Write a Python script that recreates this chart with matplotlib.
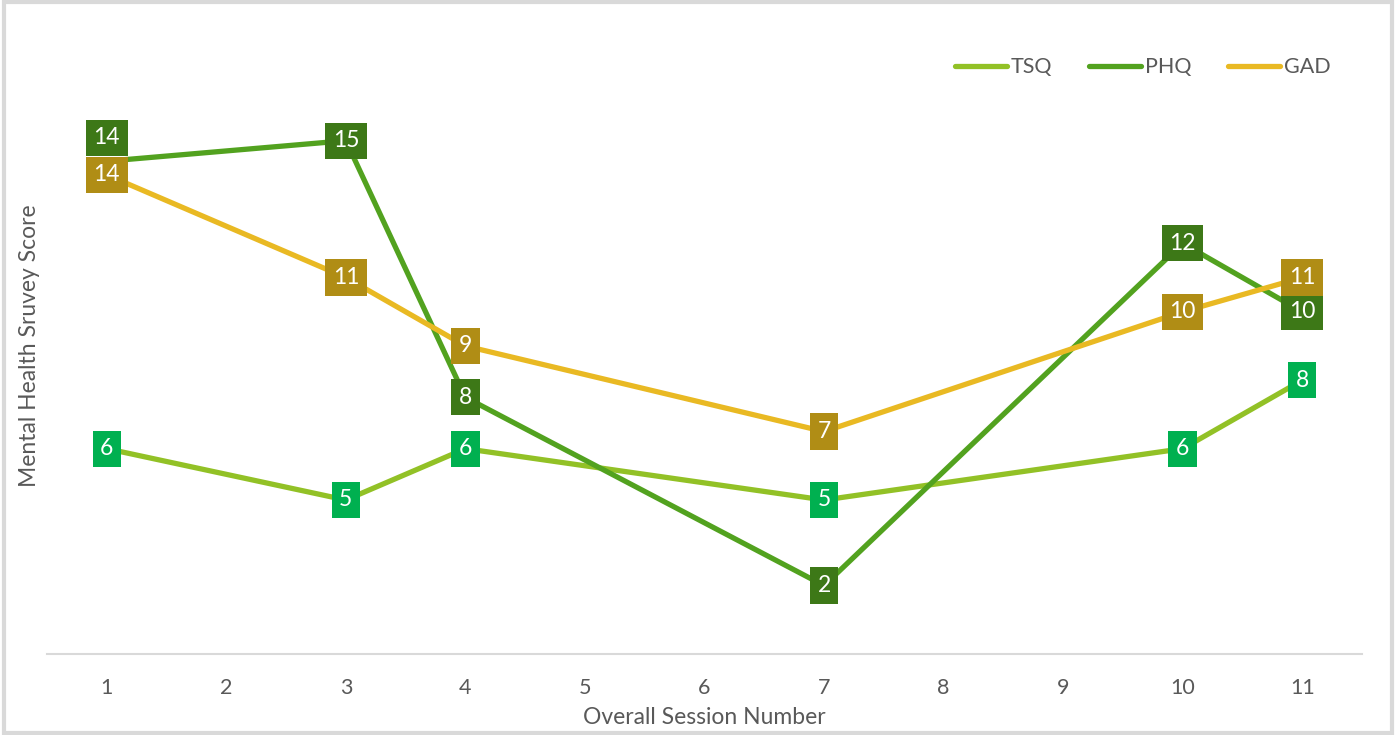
import matplotlib.pyplot as plt
from matplotlib.patches import Rectangle

# session numbers on the category axis
sessions = [1, 2, 3, 4, 5, 6, 7, 8, 9, 10, 11]

# sessions with survey data (gaps are joined by the line)
data_sessions = [1, 3, 4, 7, 10, 11]
tsq = [6.0, 4.5, 6.0, 4.5, 6.0, 8.0]
phq = [14.4, 15.0, 7.5, 2.0, 12.0, 10.0]
gad = [14.0, 11.0, 9.0, 6.5, 10.0, 11.0]

# label offsets in points (only PHQ at session 1 was moved up)
phq_label_dy = [17, 0, 0, 0, 0, 0]

plt.rcParams['font.family'] = ['Lato', 'DejaVu Sans']

fig = plt.figure(figsize=(13.96, 7.35), dpi=100)
ax = fig.add_axes([47/1396, 81/735, 1315/1396, 616/735])

x_pos = {s: i for i, s in enumerate(sessions)}


def xr(vals):
    return [x_pos[s] for s in vals]


def xl(v):
    return str(int(v + 0.5))


series = [
    ('TSQ', tsq, '#92C126', '#00B050', [0]*6),
    ('PHQ', phq, '#52A21F', '#3D7817', phq_label_dy),
    ('GAD', gad, '#E9B923', '#B08D15', [0]*6),
]

for name, vals, lc, bc, dys in series:
    ax.plot(xr(data_sessions), vals, color=lc, linewidth=3.8,
            solid_capstyle='round', label=name)

for name, vals, lc, bc, dys in series:
    for s, v, dy in zip(data_sessions, vals, dys):
        ax.annotate(xl(v), (x_pos[s], v), xytext=(0, dy), textcoords='offset points',
                    ha='center', va='center', color='white', fontsize=16.5,
                    bbox=dict(boxstyle='square,pad=0.33', fc=bc, ec='none'),
                    zorder=5)

ax.set_xlim(-0.5, len(sessions) - 0.5)
ax.set_ylim(0, 18)
ax.set_xticks(range(len(sessions)))
ax.set_xticklabels([str(s) for s in sessions])
ax.set_yticks([])
ax.tick_params(axis='x', length=0, pad=17, labelsize=15.5, colors='#595959')
for sp in ['top', 'right', 'left']:
    ax.spines[sp].set_visible(False)
ax.spines['bottom'].set_color('#D9D9D9')
ax.spines['bottom'].set_linewidth(1.5)

ax.set_xlabel('Overall Session Number', fontsize=16.5, color='#595959', labelpad=7)
ax.set_ylabel('Mental Health Sruvey Score', fontsize=16.5, color='#595959', labelpad=5)

leg = ax.legend(loc='upper right', ncol=3, frameon=False, fontsize=15.5,
                bbox_to_anchor=(0.991, 1.0), handlelength=2.4, handletextpad=0.2,
                columnspacing=1.7)
for t in leg.get_texts():
    t.set_color('#595959')

fig.patches.append(Rectangle((0.003, 0.003), 0.994, 0.994, transform=fig.transFigure,
                             fill=False, edgecolor='#D9D9D9', linewidth=3))

fig.savefig('out.png', dpi=100)
